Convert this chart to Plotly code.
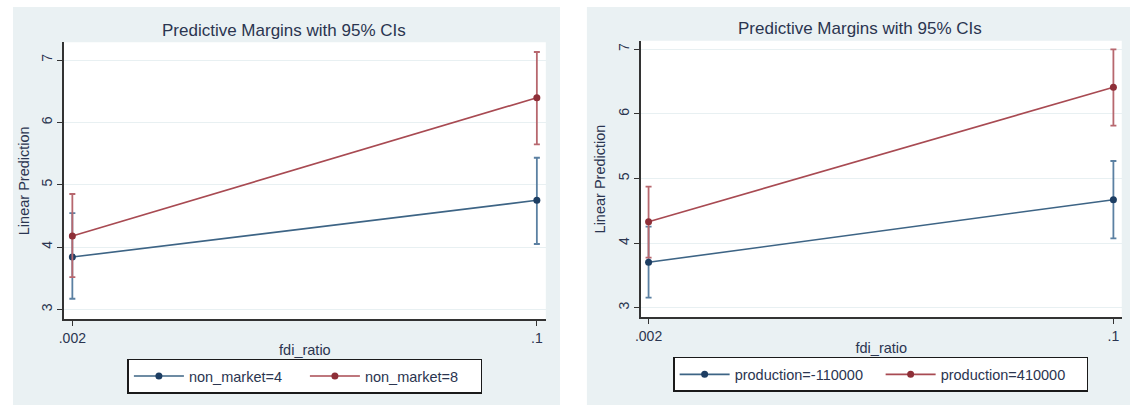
import plotly.graph_objects as go

# ---------------- data ----------------
fdi_ratio = [0.002, 0.1]

# left panel: non_market
nm4_margin = [3.839, 4.749]
nm4_lo = [3.170, 4.048]
nm4_hi = [4.545, 5.432]
nm8_margin = [4.176, 6.395]
nm8_lo = [3.518, 5.647]
nm8_hi = [4.850, 7.128]

# right panel: production
pm_margin = [3.703, 4.672]
pm_lo = [3.155, 4.074]
pm_hi = [4.254, 5.271]
pp_margin = [4.331, 6.412]
pp_lo = [3.774, 5.817]
pp_hi = [4.873, 7.000]

left_names = ["non_market=4", "non_market=8"]
right_names = ["production=-110000", "production=410000"]
y_ticks = [3, 4, 5, 6, 7]
x_ticks = [0.002, 0.1]
x_ticklabels = [".002", ".1"]
title_text = "Predictive Margins with 95% CIs"

# ---------------- style ----------------
W, H = 1130, 405
FONT = "Liberation Sans, Arial, sans-serif"
TXT = "#2b3550"
BLUE_L, BLUE_M, BLUE_E = "#3d6485", "#1d3e63", "#5b80a2"
RED_L, RED_M, RED_E = "#a84a52", "#8e2f38", "#b7676e"
PANEL = "#eaf1f3"
GRID = "#e8f0f2"


def px_x(p):
    return p / W


def px_y(p):
    return 1 - p / H


def add_series(fig, x, y, lo, hi, name, lc, mc, ec, xa, ya, legend):
    fig.add_trace(go.Scatter(
        x=x, y=y, mode="lines+markers", name=name,
        line=dict(color=lc, width=1.6),
        marker=dict(color=mc, size=7, symbol="circle"),
        error_y=dict(type="data", symmetric=False,
                     array=[h - v for h, v in zip(hi, y)],
                     arrayminus=[v - l for v, l in zip(y, lo)],
                     color=ec, thickness=1.8, width=3),
        xaxis=xa, yaxis=ya, legend=legend))


fig = go.Figure()
add_series(fig, fdi_ratio, nm4_margin, nm4_lo, nm4_hi, left_names[0], BLUE_L, BLUE_M, BLUE_E, "x", "y", "legend")
add_series(fig, fdi_ratio, nm8_margin, nm8_lo, nm8_hi, left_names[1], RED_L, RED_M, RED_E, "x", "y", "legend")
add_series(fig, fdi_ratio, pm_margin, pm_lo, pm_hi, right_names[0], BLUE_L, BLUE_M, BLUE_E, "x2", "y2", "legend2")
add_series(fig, fdi_ratio, pp_margin, pp_lo, pp_hi, right_names[1], RED_L, RED_M, RED_E, "x2", "y2", "legend2")

# panel geometry in pixels
L_plot = (58.3, 542.7, 42.3, 319.3)
R_plot = (638.3, 1121.7, 40.7, 317.3)

common_x = dict(showline=True, linecolor="#333333", linewidth=1.5, ticks="outside",
                ticklen=5, tickcolor="#333333", showgrid=False, zeroline=False,
                tickvals=x_ticks, ticktext=x_ticklabels,
                tickfont=dict(family=FONT, size=14, color=TXT),
                title=dict(text="fdi_ratio", font=dict(family=FONT, size=14.5, color=TXT), standoff=0))
common_y = dict(showline=True, linecolor="#333333", linewidth=1.5, ticks="outside",
                ticklen=5, tickcolor="#333333", showgrid=True, gridcolor=GRID, gridwidth=1,
                zeroline=False, tickvals=y_ticks, tickangle=-90,
                tickfont=dict(family=FONT, size=14, color=TXT),
                title=dict(text="Linear Prediction", font=dict(family=FONT, size=14.5, color=TXT), standoff=6))

legend_common = dict(orientation="h", xanchor="center", yanchor="middle",
                     bgcolor="white", bordercolor="#1a1a1a", borderwidth=1.5,
                     itemwidth=50, font=dict(family=FONT, size=14.5, color=TXT))

fig.update_layout(
    width=W, height=H,
    margin=dict(l=0, r=0, t=0, b=0),
    paper_bgcolor="white", plot_bgcolor="white",
    font=dict(family=FONT, color=TXT),
    xaxis=dict(common_x, domain=[px_x(L_plot[0]), px_x(L_plot[1])],
               range=[0.000237, 0.10189], anchor="y"),
    yaxis=dict(common_y, domain=[px_y(L_plot[3]), px_y(L_plot[2])],
               range=[2.840, 7.284], anchor="x"),
    xaxis2=dict(common_x, domain=[px_x(R_plot[0]), px_x(R_plot[1])],
                range=[0.000385, 0.10176], anchor="y2"),
    yaxis2=dict(common_y, domain=[px_y(R_plot[3]), px_y(R_plot[2])],
                range=[2.851, 7.133], anchor="x2"),
    legend=dict(legend_common, x=px_x(300.5), y=px_y(376), entrywidth=111),
    legend2=dict(legend_common, x=px_x(879.3), y=px_y(374.4), entrywidth=141),
    showlegend=True,
)

# panel backgrounds and white plot regions
shapes = []
for (x0, x1), plot in (((7, 557), L_plot), ((584, 1130), R_plot)):
    shapes.append(dict(type="rect", xref="paper", yref="paper", layer="below",
                       x0=px_x(x0), x1=px_x(x1), y0=px_y(405), y1=px_y(7),
                       fillcolor=PANEL, line=dict(width=0)))
    shapes.append(dict(type="rect", xref="paper", yref="paper", layer="below",
                       x0=px_x(plot[0]), x1=px_x(plot[1]), y0=px_y(plot[3]), y1=px_y(plot[2]),
                       fillcolor="white", line=dict(width=0)))
fig.update_layout(shapes=shapes)

fig.add_annotation(text=title_text, xref="paper", yref="paper", x=px_x(279), y=px_y(30.5),
                   showarrow=False, xanchor="center", yanchor="middle",
                   font=dict(family=FONT, size=17, color=TXT))
fig.add_annotation(text=title_text, xref="paper", yref="paper", x=px_x(859), y=px_y(28.5),
                   showarrow=False, xanchor="center", yanchor="middle",
                   font=dict(family=FONT, size=17, color=TXT))

fig.write_html("out.html", config={"displayModeBar": False},
               post_script="document.body.style.margin='0';")
